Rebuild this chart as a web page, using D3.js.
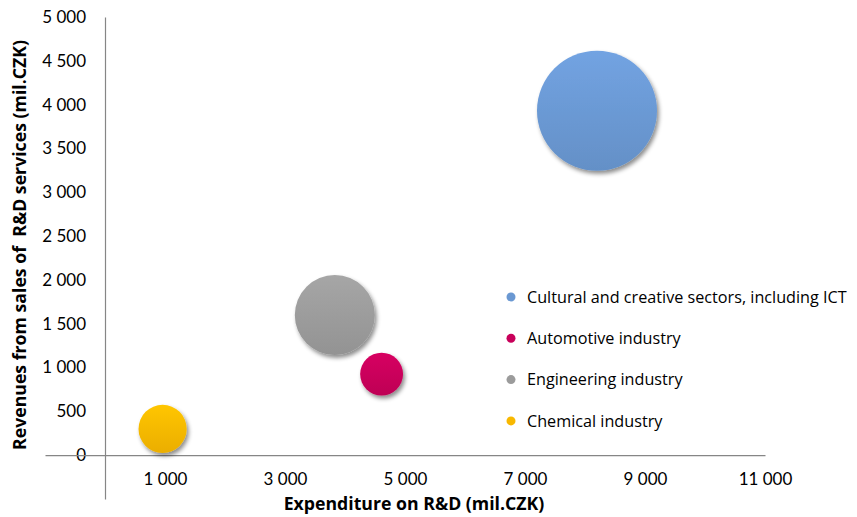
<!DOCTYPE html>
<html>
<head>
<meta charset="utf-8">
<script src="https://cdn.jsdelivr.net/npm/d3@7"></script>
<style>
  body { margin: 0; background: #fff; }
  .tick-label { font-family: Lato, "Open Sans", sans-serif; font-size: 17px; fill: #000; }
  .axis-title { font-family: "Open Sans", Lato, sans-serif; font-size: 17.7px; font-weight: bold; fill: #000; }
  .legend-label { font-family: "Open Sans", Lato, sans-serif; font-size: 16.2px; fill: #000; }
</style>
</head>
<body>
<div id="chart"></div>
<script>
// chart values
const sectors = ['Cultural and creative sectors, including ICT', 'Automotive industry', 'Engineering industry', 'Chemical industry'];
const expenditure = [8200, 4610, 3830, 960];
const revenues = [3930, 925, 1600, 300];
const bubbleSize = [3600, 460, 1600, 580];
const colors = ['#6a98d2', '#c8005a', '#9b9b9b', '#f8b800'];
const xTicks = [1000, 3000, 5000, 7000, 9000, 11000];
const yTicks = [0, 500, 1000, 1500, 2000, 2500, 3000, 3500, 4000, 4500, 5000];

const data = sectors.map((s, i) => ({
    name: s, x: expenditure[i], y: revenues[i], size: bubbleSize[i], color: colors[i]
}));

const width = 857, height = 517;

const svg = d3.select('#chart')
    .append('svg')
    .attr('width', width)
    .attr('height', height);

const defs = svg.append('defs');
defs.append('filter')
    .attr('id', 'shadow')
    .attr('x', '-30%').attr('y', '-30%').attr('width', '160%').attr('height', '160%')
    .append('feDropShadow')
    .attr('dx', 2).attr('dy', 3)
    .attr('stdDeviation', 2.2)
    .attr('flood-color', '#000')
    .attr('flood-opacity', 0.45);

data.forEach((d, i) => {
    const g = defs.append('linearGradient')
        .attr('id', 'grad' + i)
        .attr('x1', 0).attr('y1', 0).attr('x2', 0).attr('y2', 1);
    g.append('stop').attr('offset', '0%').attr('stop-color', d3.color(d.color).brighter(0.2));
    g.append('stop').attr('offset', '100%').attr('stop-color', d3.color(d.color).darker(0.15));
});

const xScale = d3.scaleLinear().domain([-1000, 11000]).range([45, 765]);
const yScale = d3.scaleLinear().domain([-500, 5000]).range([499, 17]);
const rScale = d3.scaleSqrt().domain([0, d3.max(bubbleSize)]).range([0, 60]);

const fmt = v => d3.format(',')(v).replace(/,/g, ' ');

// y axis (crosses at x = 0)
const yAxis = svg.append('g')
    .attr('transform', `translate(${xScale(0)},0)`)
    .call(d3.axisLeft(yScale).tickValues(yTicks).tickSize(0).tickPadding(19).tickFormat(fmt));
yAxis.select('.domain').attr('stroke', '#868686').attr('stroke-width', 1.2);
yAxis.selectAll('text').attr('class', 'tick-label').attr('font-family', null).attr('font-size', null);

// x axis (crosses at y = 0)
const xAxis = svg.append('g')
    .attr('transform', `translate(0,${yScale(0)})`)
    .call(d3.axisBottom(xScale).tickValues(xTicks).tickSize(0).tickPadding(18).tickFormat(fmt));
xAxis.select('.domain').attr('stroke', '#868686').attr('stroke-width', 1.2);
xAxis.selectAll('text').attr('class', 'tick-label').attr('font-family', null).attr('font-size', null);

svg.append('text')
    .attr('class', 'axis-title')
    .attr('x', 414)
    .attr('y', 510)
    .attr('text-anchor', 'middle')
    .text('Expenditure on R&D (mil.CZK)');

svg.append('text')
    .attr('class', 'axis-title')
    .attr('transform', 'rotate(-90)')
    .attr('x', -245)
    .attr('y', 26)
    .attr('text-anchor', 'middle')
    .style('white-space', 'pre')
    .text('Revenues from sales of  R&D services (mil.CZK)');

// bubbles, biggest first
svg.selectAll('.bubble')
    .data(data.slice().sort((a, b) => b.size - a.size))
    .enter()
    .append('circle')
    .attr('class', 'bubble')
    .attr('cx', d => xScale(d.x))
    .attr('cy', d => yScale(d.y))
    .attr('r', d => rScale(d.size))
    .attr('fill', d => 'url(#grad' + sectors.indexOf(d.name) + ')')
    .attr('filter', 'url(#shadow)');

// legend
const legend = svg.append('g')
    .attr('transform', 'translate(511,297)');

const item = legend.selectAll('.legend-item')
    .data(data)
    .enter()
    .append('g')
    .attr('class', 'legend-item')
    .attr('transform', (d, i) => `translate(0,${i * 41.3})`);

item.append('circle')
    .attr('r', 4.5)
    .attr('fill', d => d.color);

item.append('text')
    .attr('class', 'legend-label')
    .attr('x', 16)
    .attr('dy', '0.35em')
    .text(d => d.name);
</script>
</body>
</html>
